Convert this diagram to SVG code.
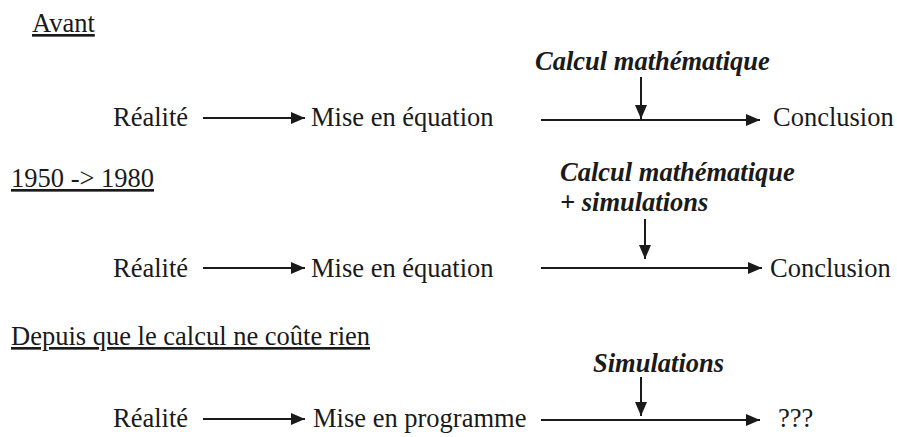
<svg xmlns="http://www.w3.org/2000/svg" width="897" height="437" viewBox="0 0 897 437">
<style>
  text { font-family: 'Liberation Serif', 'Times New Roman', Times, serif; font-size: 26.5px; fill: #1a1a1a; }
  .head { text-decoration: underline; }
  .bi { font-weight: bold; font-style: italic; }
  .conn line { stroke: #1a1a1a; stroke-width: 2; fill: none; marker-end: url(#ah); }
</style>
<defs>
  <marker id="ah" markerUnits="userSpaceOnUse" markerWidth="14" markerHeight="12" viewBox="0 0 14 12" refX="14" refY="6" orient="auto">
    <path d="M0,0 L14,6 L0,12 z" fill="#1a1a1a"/>
  </marker>
</defs>
<rect width="897" height="437" fill="#ffffff"/>

<g id="header-avant"><text class="head" x="32" y="32">Avant</text></g>
<g id="header-1950"><text class="head" x="11" y="187">1950 -&gt; 1980</text></g>
<g id="header-depuis"><text class="head" x="11" y="345">Depuis que le calcul ne coûte rien</text></g>

<g id="r1-realite"><text x="113" y="126">Réalité</text></g>
<g id="r1-mise"><text x="311" y="126">Mise en équation</text></g>
<g id="r1-conclusion"><text x="773" y="126">Conclusion</text></g>
<g id="r1-calcul"><text class="bi" x="535" y="70">Calcul mathématique</text></g>

<g id="r2-realite"><text x="113" y="277">Réalité</text></g>
<g id="r2-mise"><text x="311" y="277">Mise en équation</text></g>
<g id="r2-conclusion"><text x="770" y="277">Conclusion</text></g>
<g id="r2-calcul"><text class="bi" x="560" y="181">Calcul mathématique</text><text class="bi" x="560" y="211">+ simulations</text></g>

<g id="r3-realite"><text x="113" y="427">Réalité</text></g>
<g id="r3-mise"><text x="313" y="427">Mise en programme</text></g>
<g id="r3-result"><text x="778" y="427">???</text></g>
<g id="r3-simulations"><text class="bi" x="593" y="372">Simulations</text></g>

<g id="connectors" class="conn">
  <line x1="203" y1="118" x2="305" y2="118"/>
  <line x1="541" y1="120" x2="760" y2="120"/>
  <line x1="641" y1="77" x2="641" y2="119"/>

  <line x1="203" y1="268" x2="305" y2="268"/>
  <line x1="541" y1="268" x2="762" y2="268"/>
  <line x1="645" y1="219" x2="645" y2="259"/>

  <line x1="203" y1="419" x2="305" y2="419"/>
  <line x1="541" y1="420" x2="760" y2="420"/>
  <line x1="641" y1="377" x2="641" y2="416"/>
</g>
</svg>
